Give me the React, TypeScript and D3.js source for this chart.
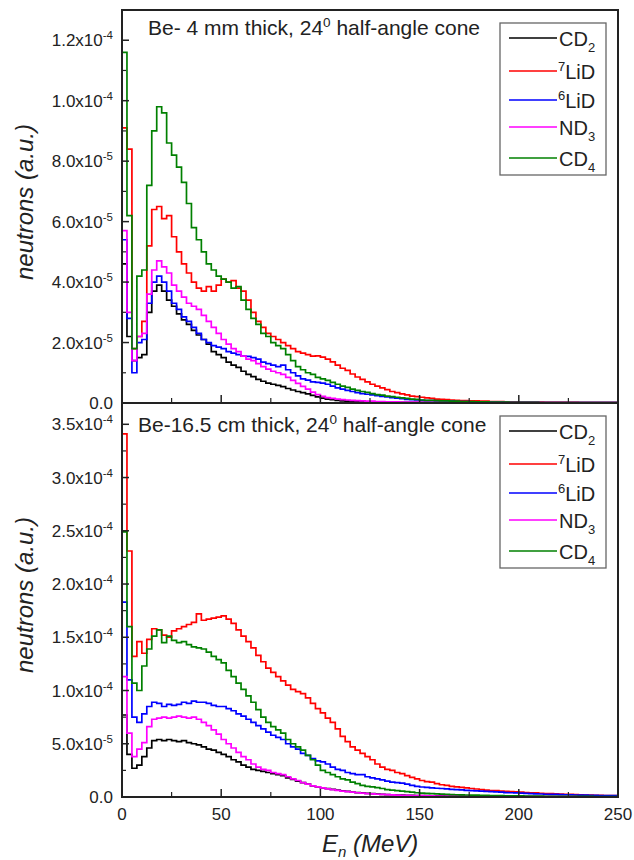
import React, { useRef, useEffect } from "react";
import * as d3 from "d3";

// histogram bins are 2.5 MeV wide, starting at 0
const binWidth = 2.5;
const energyTicks = [0, 50, 100, 150, 200, 250];
const energyMinor = [25, 75, 125, 175, 225];

const seriesNames = ["CD2", "7LiD", "6LiD", "ND3", "CD4"];
const seriesColors = ["#000000", "#ff0000", "#0000ff", "#ff00ff", "#008000"];

// Be 4 mm thick target, neutrons in units of 1e-6
const thinCD2 = [
  46, 22, 14, 15, 16, 30, 37, 39, 37, 34,
  32, 29.5, 27.5, 26, 24, 22.5, 21, 19.5, 17, 16,
  15, 13.5, 12.5, 11.8, 10.5, 9.5, 8.7, 7.8, 7.2, 6.6,
  6.2, 5.8, 5.4, 4.8, 4.3, 3.8, 3.4, 3.0, 2.5, 2.0,
  1.6, 1.3, 1.1, 0.9, 0.7, 0.6, 0.5, 0.5, 0.4, 0.4,
  0.4, 0.3, 0.3, 0.3, 0.3, 0.2, 0.2, 0.2, 0.2, 0.2,
  0.2, 0.2, 0.1, 0.2, 0.1, 0.1, 0.1, 0.1, 0.1, 0.1,
  0.1, 0.1, 0.1, 0.1, 0.1, 0.1, 0.1, 0.1, 0.1, 0.1,
  0.1, 0.1, 0.1, 0.1, 0.1, 0.1, 0.1, 0.1, 0.1, 0.1,
  0.1, 0.1, 0.1, 0.1, 0.1, 0.1, 0.1, 0.1, 0.1, 0.1,
];
const thinLi7 = [
  91, 84, 18, 22, 27, 52, 64, 65, 61, 62,
  55, 50, 46, 43, 40, 38, 37, 38.5, 37, 39,
  41, 40, 40.5, 38, 37, 34, 30, 27, 25, 23,
  22, 21, 20, 19, 18, 17, 16.5, 16, 15.5, 15.6,
  15.2, 14.5, 13.6, 12.5, 11.5, 10.8, 9.6, 8.6, 7.8, 7,
  6.2, 5.6, 5.0, 4.4, 3.8, 3.4, 3.0, 2.7, 2.3, 2.1,
  1.9, 1.7, 1.5, 1.3, 1.2, 1.1, 1.0, 0.9, 0.8, 0.8,
  0.7, 0.7, 0.6, 0.6, 0.5, 0.5, 0.5, 0.4, 0.4, 0.4,
  0.3, 0.3, 0.3, 0.3, 0.3, 0.2, 0.2, 0.2, 0.2, 0.2,
  0.2, 0.2, 0.1, 0.1, 0.1, 0.1, 0.1, 0.1, 0.1, 0.1,
];
const thinLi6 = [
  54, 28, 10, 20, 21, 33, 40, 42, 40, 37,
  33, 31, 28.5, 27, 25, 23, 21, 20, 19, 18.5,
  18, 17, 16.5, 16, 15.5, 15.4, 15, 14.5, 13.5, 13,
  12.5, 12, 12.5, 11, 10, 9, 8, 7.6, 7, 6.8,
  6.6, 6.2, 5.6, 5.0, 4.6, 4.2, 3.8, 3.4, 3.1, 2.9,
  2.7, 2.4, 2.2, 2.0, 1.8, 1.6, 1.4, 1.2, 1.1, 1.0,
  0.9, 0.8, 0.8, 0.7, 0.7, 0.6, 0.6, 0.5, 0.5, 0.5,
  0.4, 0.4, 0.4, 0.3, 0.3, 0.3, 0.3, 0.2, 0.2, 0.2,
  0.2, 0.2, 0.2, 0.2, 0.1, 0.1, 0.1, 0.1, 0.1, 0.1,
  0.1, 0.1, 0.1, 0.1, 0.1, 0.1, 0.1, 0.1, 0.1, 0.1,
];
const thinND3 = [
  57, 30, 14, 22, 23, 36, 44, 47, 45, 43,
  39, 37, 35, 33, 32, 31, 29, 27, 25, 23,
  21, 19.5, 18, 17, 15.5, 14.5, 14, 13, 12, 11.2,
  10.5, 10, 9.5, 8.5, 7.5, 6.5, 5.5, 4.6, 3.6, 2.8,
  2.2, 1.8, 1.5, 1.3, 1.1, 1.0, 0.9, 0.8, 0.7, 0.6,
  0.6, 0.5, 0.5, 0.4, 0.4, 0.4, 0.3, 0.3, 0.3, 0.3,
  0.2, 0.2, 0.2, 0.2, 0.2, 0.2, 0.2, 0.2, 0.2, 0.2,
  0.1, 0.1, 0.1, 0.1, 0.1, 0.1, 0.1, 0.1, 0.1, 0.1,
  0.1, 0.1, 0.1, 0.1, 0.1, 0.1, 0.1, 0.1, 0.1, 0.1,
  0.1, 0.1, 0.1, 0.1, 0.1, 0.1, 0.1, 0.1, 0.1, 0.1,
];
const thinCD4 = [
  116, 62, 18, 42, 44, 72, 90, 98, 96, 86,
  82, 78, 73, 66, 58, 54, 50, 46, 44, 42,
  41, 40, 38, 38.5, 34, 31, 28, 26, 23, 22,
  20, 19, 18, 16, 14, 12, 11, 10, 9.5, 8.5,
  8, 7.5, 6.8, 6.2, 5.6, 5.2, 4.6, 4.2, 3.8, 3.5,
  3.1, 2.8, 2.6, 2.3, 2.1, 1.9, 1.7, 1.5, 1.3, 1.2,
  1.0, 0.9, 0.9, 0.8, 0.7, 0.7, 0.6, 0.6, 0.5, 0.5,
  0.5, 0.4, 0.4, 0.4, 0.3, 0.3, 0.3, 0.3, 0.2, 0.2,
  0.2, 0.2, 0.2, 0.2, 0.1, 0.1, 0.1, 0.1, 0.1, 0.1,
  0.1, 0.1, 0.1, 0.1, 0.1, 0.1, 0.1, 0.1, 0.1, 0.1,
];

// Be 16.5 cm thick target, neutrons in units of 1e-6
const thickCD2 = [
  77, 40, 27, 30, 38, 46, 53, 54, 53, 54,
  53, 52, 53, 51, 50, 49, 47, 45, 44, 42,
  40, 38, 35, 33, 30, 28, 26, 25, 24, 23,
  22, 21, 20, 18, 16.5, 15, 13.5, 12, 10.5, 9.5,
  8.5, 7.8, 7.2, 6.5, 5.8, 5.2, 4.7, 4.2, 3.8, 3.4,
  3.1, 2.8, 2.5, 2.3, 2.1, 1.9, 1.7, 1.6, 1.5, 1.4,
  1.3, 1.2, 1.1, 1.0, 1.0, 0.9, 0.9, 0.8, 0.8, 0.7,
  0.7, 0.6, 0.6, 0.6, 0.5, 0.5, 0.5, 0.5, 0.4, 0.4,
  0.4, 0.4, 0.4, 0.3, 0.3, 0.3, 0.3, 0.3, 0.3, 0.3,
  0.2, 0.2, 0.2, 0.2, 0.2, 0.2, 0.2, 0.2, 0.2, 0.2,
];
const thickLi7 = [
  341, 231, 132, 146, 135, 148, 158, 157, 152, 150,
  156, 158, 160, 162, 164, 172, 166, 167, 168, 169,
  170, 167, 163, 157, 151, 146, 140, 133, 127, 121,
  117, 113, 109, 105, 101, 99, 97, 93, 88, 83,
  79, 74, 70, 64, 57, 52, 47, 44, 41, 38,
  35, 31, 28, 26, 25, 23, 22, 20, 18.5, 17,
  15.5, 14.5, 14, 12.5, 11.5, 11, 10, 9.5, 9, 8.5,
  8, 7.5, 7, 6.5, 6, 6, 5.5, 5.2, 5, 4.8,
  4.5, 4.2, 4, 3.8, 3.5, 3.3, 3.2, 3, 2.8, 2.6,
  2.4, 2.2, 2, 1.9, 1.8, 1.6, 1.5, 1.4, 1.3, 1.2,
];
const thickLi6 = [
  183, 110, 75, 70, 78, 85, 89, 88, 85, 87,
  86, 87, 89, 88, 90, 89, 89, 88, 86, 85,
  85, 83, 81, 78, 76, 73, 70, 67, 64, 61,
  58, 56, 54, 50, 47, 45, 41, 39, 36, 34,
  33, 31, 28, 26, 25, 23, 22, 21, 21, 19,
  18, 17, 16, 15, 14, 13.5, 13, 12, 11, 10,
  9.4, 9, 8.6, 8.2, 8, 7.6, 7.2, 6.9, 6.6, 6.3,
  6, 5.8, 5.6, 5.3, 5, 4.8, 4.5, 4.2, 4, 3.8,
  3.6, 3.4, 3.2, 3, 2.8, 2.6, 2.5, 2.4, 2.2, 2.1,
  2, 1.9, 1.8, 1.7, 1.6, 1.5, 1.4, 1.3, 1.3, 1.2,
];
const thickND3 = [
  113, 60, 38, 45, 51, 66, 73, 74, 75, 74,
  75, 76, 75, 74, 75, 73, 70, 67, 63, 59,
  54, 50, 46, 42, 38, 35, 31, 28, 26, 25,
  23, 22, 21, 19, 17, 15.5, 13.5, 12, 10.5, 9.5,
  8.5, 7.6, 7, 6.2, 5.6, 5, 4.5, 4, 3.6, 3.2,
  2.9, 2.6, 2.4, 2.2, 2, 1.8, 1.6, 1.5, 1.4, 1.3,
  1.2, 1.1, 1, 0.9, 0.9, 0.8, 0.8, 0.7, 0.7, 0.6,
  0.6, 0.6, 0.5, 0.5, 0.5, 0.4, 0.4, 0.4, 0.4, 0.3,
  0.3, 0.3, 0.3, 0.3, 0.3, 0.3, 0.3, 0.3, 0.3, 0.3,
  0.3, 0.2, 0.2, 0.2, 0.2, 0.2, 0.2, 0.2, 0.2, 0.2,
];
const thickCD4 = [
  249, 160, 107, 100, 123, 139, 151, 157, 145, 151,
  147, 145, 146, 143, 141, 140, 139, 136, 132, 129,
  126, 119, 113, 107, 101, 95, 89, 82, 75, 70,
  66, 63, 60, 54, 50, 47, 44, 39, 35, 30,
  25, 23, 21, 19, 17, 16, 14, 12.5, 11, 10,
  9.5, 8.8, 8, 7, 6.5, 6, 5.5, 5, 4.5, 4,
  3.7, 3.4, 3.1, 2.9, 2.7, 2.5, 2.3, 2.1, 2, 1.9,
  1.8, 1.7, 1.6, 1.5, 1.4, 1.3, 1.2, 1.1, 1.1, 1,
  1, 0.9, 0.9, 0.8, 0.8, 0.7, 0.7, 0.7, 0.6, 0.6,
  0.6, 0.5, 0.5, 0.5, 0.5, 0.4, 0.4, 0.4, 0.4, 0.4,
];

// y ticks, units of 1e-6
const thinTicks = [0, 20, 40, 60, 80, 100, 120];
const thinMinor = [10, 30, 50, 70, 90, 110];
const thickTicks = [0, 50, 100, 150, 200, 250, 300, 350];
const thickMinor = [25, 75, 125, 175, 225, 275, 325];

// legend labels: [superscript prefix, main text, subscript]
const legendLabels: [string, string, string][] = [
  ["", "CD", "2"],
  ["7", "LiD", ""],
  ["6", "LiD", ""],
  ["", "ND", "3"],
  ["", "CD", "4"],
];
const legendRows = [15, 48, 77, 104, 135];

const FONT = "'Liberation Sans', Arial, sans-serif";

function sciLabel(v: number): [string, string] {
  if (v === 0) return ["0.0", ""];
  const val = v * 1e-6;
  const e = Math.floor(Math.log10(val) + 1e-9);
  return [(val / Math.pow(10, e)).toFixed(1) + "x10", String(e)];
}

const App = () => {
  const chartRef = useRef<SVGSVGElement>(null);

  useEffect(() => {
    const svg = d3.select(chartRef.current);
    svg.selectAll("*").remove();

    const x = d3.scaleLinear().domain([0, 250]).range([122, 618]);

    const panels = [
      {
        top: 10, bottom: 403, yMax: 130, ticks: thinTicks, minor: thinMinor,
        series: [thinCD2, thinLi7, thinLi6, thinND3, thinCD4],
        title: "Be- 4 mm thick, 24", titleX: 148, titleY: 35, legendTop: 23, labelY: 202,
      },
      {
        top: 403, bottom: 797, yMax: 370, ticks: thickTicks, minor: thickMinor,
        series: [thickCD2, thickLi7, thickLi6, thickND3, thickCD4],
        title: "Be-16.5 cm thick, 24", titleX: 138, titleY: 432, legendTop: 416, labelY: 595,
      },
    ];

    panels.forEach((p) => {
      const y = d3.scaleLinear().domain([0, p.yMax]).range([p.bottom, p.top]);
      const g = svg.append("g");

      // histograms
      const line = d3
        .line<[number, number]>()
        .x((d) => x(d[0]))
        .y((d) => y(d[1]))
        .curve(d3.curveStepAfter);
      p.series.forEach((vals, si) => {
        const pts: [number, number][] = [[0, 0]];
        vals.forEach((v, i) => pts.push([i * binWidth, v]));
        pts.push([vals.length * binWidth, vals[vals.length - 1]]);
        g.append("path")
          .attr("d", line(pts))
          .attr("fill", "none")
          .attr("stroke", seriesColors[si])
          .attr("stroke-width", 1.7)
          .attr("stroke-linejoin", "miter");
      });

      // frame
      g.append("rect")
        .attr("x", x(0))
        .attr("y", p.top)
        .attr("width", x(250) - x(0))
        .attr("height", p.bottom - p.top)
        .attr("fill", "none")
        .attr("stroke", "#222")
        .attr("stroke-width", 2);

      // y ticks (inside)
      p.ticks.forEach((t) => {
        g.append("line")
          .attr("x1", x(0)).attr("x2", x(0) + 7)
          .attr("y1", y(t)).attr("y2", y(t))
          .attr("stroke", "#222").attr("stroke-width", 1.5);
        const [m, e] = sciLabel(t);
        const txt = g.append("text")
          .attr("x", 113)
          .attr("y", y(t) + 6)
          .attr("text-anchor", "end")
          .attr("font-family", FONT)
          .attr("font-size", 17)
          .attr("fill", "#222")
          .text(m);
        if (e) {
          txt.append("tspan").attr("dy", -7).attr("font-size", 11.5).text(e);
        }
      });
      p.minor.forEach((t) => {
        g.append("line")
          .attr("x1", x(0)).attr("x2", x(0) + 4)
          .attr("y1", y(t)).attr("y2", y(t))
          .attr("stroke", "#222").attr("stroke-width", 1.2);
      });

      // x ticks (inside, bottom of each panel)
      energyTicks.forEach((t) => {
        g.append("line")
          .attr("x1", x(t)).attr("x2", x(t))
          .attr("y1", p.bottom).attr("y2", p.bottom - 8)
          .attr("stroke", "#222").attr("stroke-width", 1.5);
      });
      energyMinor.forEach((t) => {
        g.append("line")
          .attr("x1", x(t)).attr("x2", x(t))
          .attr("y1", p.bottom).attr("y2", p.bottom - 5)
          .attr("stroke", "#222").attr("stroke-width", 1.2);
      });

      // panel title
      const title = g.append("text")
        .attr("x", p.titleX)
        .attr("y", p.titleY)
        .attr("font-family", FONT)
        .attr("font-size", 21)
        .attr("fill", "#222")
        .text(p.title);
      title.append("tspan").attr("dy", -8).attr("font-size", 13.5).text("0");
      title.append("tspan").attr("dy", 8).text(" half-angle cone");

      // legend
      const lg = g.append("g").attr("transform", `translate(500,${p.legendTop})`);
      lg.append("rect")
        .attr("width", 106).attr("height", 152)
        .attr("fill", "#fff").attr("stroke", "#666").attr("stroke-width", 1.3);
      legendLabels.forEach(([sup, main, sub], i) => {
        const ly = legendRows[i];
        lg.append("line")
          .attr("x1", 9).attr("x2", 57)
          .attr("y1", ly).attr("y2", ly)
          .attr("stroke", seriesColors[i]).attr("stroke-width", 1.6);
        const t = lg.append("text")
          .attr("x", sup ? 58 : 59)
          .attr("y", ly + 7.5)
          .attr("font-family", FONT)
          .attr("font-size", 20)
          .attr("fill", "#222");
        if (sup) {
          t.append("tspan").attr("font-size", 13).attr("dy", -8).text(sup);
          t.append("tspan").attr("dy", 8).text(main);
        } else {
          t.append("tspan").text(main);
          t.append("tspan").attr("font-size", 13).attr("dy", 6).text(sub);
        }
      });

      // y axis title
      g.append("text")
        .attr("transform", `translate(33,${p.labelY}) rotate(-90)`)
        .attr("text-anchor", "middle")
        .attr("font-family", FONT)
        .attr("font-size", 24)
        .attr("font-style", "italic")
        .attr("fill", "#222")
        .text("neutrons (a.u.)");
    });

    // x tick labels under the lower panel
    energyTicks.forEach((t) => {
      svg.append("text")
        .attr("x", x(t))
        .attr("y", 820)
        .attr("text-anchor", "middle")
        .attr("font-family", FONT)
        .attr("font-size", 17)
        .attr("fill", "#222")
        .text(t);
    });

    const xt = svg.append("text")
      .attr("x", 322)
      .attr("y", 852)
      .attr("font-family", FONT)
      .attr("font-size", 24)
      .attr("font-style", "italic")
      .attr("fill", "#222");
    xt.append("tspan").text("E");
    xt.append("tspan").attr("font-size", 15).attr("dy", 5).text("n");
    xt.append("tspan").attr("dy", -5).text(" (MeV)");
  }, []);

  return (
    <svg
      ref={chartRef}
      width={634}
      height={860}
      style={{ position: "absolute", left: 0, top: 0, background: "#fff" }}
    />
  );
};

export default App;
